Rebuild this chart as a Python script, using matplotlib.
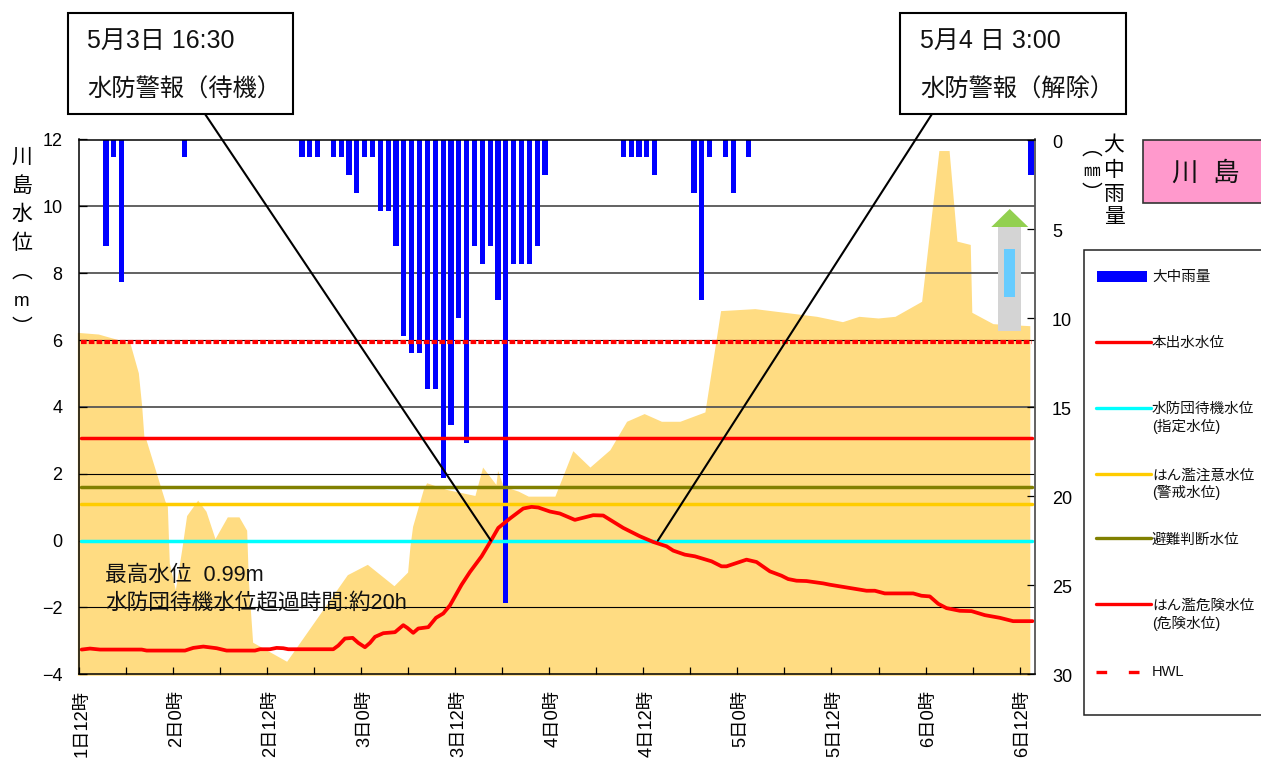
import matplotlib
matplotlib.use("Agg")
import matplotlib.pyplot as plt
from matplotlib.lines import Line2D
from matplotlib.patches import Rectangle, Polygon, ConnectionPatch
from matplotlib.transforms import ScaledTranslation

plt.rcParams['font.family'] = ['Liberation Sans', 'Noto Sans CJK JP', 'DejaVu Sans']

W, H = 1261, 761

# ---- data (x = hours after 1日12時) ----
tick_labels = ['1日12時', '2日0時', '2日12時', '3日0時', '3日12時', '4日0時',
               '4日12時', '5日0時', '5日12時', '6日0時', '6日12時']
tick_hours = [0, 12, 24, 36, 48, 60, 72, 84, 96, 108, 120]
minor_hours = [6, 18, 30, 42, 54, 66, 78, 90, 102, 114]

rain_hours = [3, 4, 5, 13, 28, 29, 30, 32, 33, 34, 35, 36, 37, 38, 39, 40, 41, 42, 43, 44,
              45, 46, 47, 48, 49, 50, 51, 52, 53, 54, 55, 56, 57, 58, 59,
              69, 70, 71, 72, 73, 78, 79, 80, 82, 83, 85, 121]
rain_mm = [6, 1, 8, 1, 1, 1, 1, 1, 1, 2, 3, 1, 1, 4, 4, 6, 11, 12, 12, 14,
           14, 19, 16, 10, 17, 6, 7, 6, 9, 26, 7, 7, 7, 6, 2,
           1, 1, 1, 1, 2, 3, 9, 1, 1, 3, 1, 2]

level_hours = [0.34, 1.40, 2.68, 8.0, 8.63, 13.52, 14.58, 15.86, 17.56, 18.83, 22.45, 23.09,
               24.36, 25.21, 26.06, 26.70, 32.44, 33.08, 33.93, 34.91, 35.63, 36.48, 37.12,
               37.76, 38.82, 40.31, 41.37, 41.88, 42.64, 43.28, 44.56, 45.54, 46.47, 47.32,
               48.81, 49.87, 51.36, 52.51, 53.49, 54.97, 56.67, 57.74, 58.59, 60.08, 61.35,
               63.26, 65.60, 66.88, 69.43, 71.55, 73.25, 74.96, 75.81, 77.29, 78.57, 80.70,
               81.97, 82.61, 85.16, 86.43, 88.14, 89.62, 90.47, 91.54, 92.81, 94.94, 95.79,
               100.47, 101.53, 102.80, 106.42, 107.48, 108.54, 109.61, 110.67, 112.37, 113.86,
               115.56, 117.47, 119.17, 121.64]
level_m = [-3.26, -3.23, -3.26, -3.26, -3.29, -3.29, -3.21, -3.17, -3.22, -3.29, -3.29, -3.25,
           -3.25, -3.21, -3.22, -3.25, -3.25, -3.14, -2.93, -2.91, -3.06, -3.19, -3.06,
           -2.88, -2.77, -2.74, -2.53, -2.61, -2.76, -2.63, -2.59, -2.31, -2.18, -1.94,
           -1.32, -0.94, -0.47, -0.02, 0.38, 0.66, 0.96, 1.01, 0.99, 0.87, 0.81,
           0.62, 0.76, 0.75, 0.38, 0.13, -0.04, -0.17, -0.30, -0.42, -0.47, -0.62,
           -0.77, -0.77, -0.57, -0.64, -0.92, -1.05, -1.15, -1.20, -1.21, -1.28, -1.32,
           -1.50, -1.50, -1.58, -1.58, -1.65, -1.67, -1.89, -2.02, -2.10, -2.11,
           -2.23, -2.31, -2.41, -2.41]

area_hours = [-0.21, 2.47, 6.50, 7.57, 8.0, 8.29, 8.55, 10.97, 11.27, 11.52, 12.29, 13.1, 13.73,
              15.14, 16.2, 17.35, 18.92, 20.41, 21.39, 21.6, 22.15, 26.49, 34.23, 36.78, 40.18,
              41.92, 42.22, 42.56, 43.92, 44.35, 46.9, 50.51, 51.49, 53.19, 53.4, 54.12, 56.04,
              57.31, 60.71, 63.0, 65.18, 67.73, 69.86, 72.1, 74.3, 76.66, 79.85, 81.85, 86.22,
              94.1, 97.4, 99.5, 101.95, 104.1, 107.5, 109.7, 111.0, 112.0, 113.7, 113.9, 116.6,
              121.3]
area_m = [6.23, 6.18, 5.91, 5.02, 4.02, 3.07, 3.02, 1.18, 1.03, -0.67, -1.47, -0.27, 0.75,
          1.21, 0.88, 0.06, 0.71, 0.71, 0.31, -1.17, -3.04, -3.61, -1.02, -0.71, -1.35,
          -0.94, -0.17, 0.43, 1.53, 1.73, 1.53, 1.35, 2.2, 1.68, 2.10, 1.63, 1.48,
          1.33, 1.33, 2.69, 2.2, 2.72, 3.57, 3.8, 3.57, 3.57, 3.85, 6.88, 6.94,
          6.71, 6.55, 6.71, 6.66, 6.71, 7.16, 11.67, 11.67, 8.96, 8.86, 6.83, 6.49,
          6.43]

hwl_m = 5.93
honde_m = 3.08
warn_m = 1.1
evac_m = 1.6
standby_m = 0.0
standby_start_h = 52.55
standby_end_h = 73.85

# ---- helpers ----
fx = lambda x: x / W
fy = lambda y: 1 - y / H

fig = plt.figure(figsize=(W / 100, H / 100), dpi=100, facecolor='white')
L, R, T, B = 79, 1035.3, 139.5, 674.3
rect = [fx(L), fy(B), (R - L) / W, (B - T) / H]

ax_bg = fig.add_axes(rect, zorder=1)
ax_rain = fig.add_axes(rect, zorder=2, facecolor='none')
ax_fg = fig.add_axes(rect, zorder=3, facecolor='none')
for a in (ax_bg, ax_fg):
    a.set_xlim(0, 122)
    a.set_ylim(-4, 12)
ax_rain.set_xlim(0, 122)
ax_rain.set_ylim(30, 0)

# background area and grid
ax_bg.fill_between(area_hours, area_m, -4.03, color='#FFDC82', lw=0, clip_on=False)
for g in [2, 6, -2]:
    ax_bg.axhline(g, color='black', lw=0.8, zorder=3)
for g in [10, 8, 4]:
    ax_bg.axhline(g, color='#555555', lw=1.3, zorder=3)
ax_bg.set_xticks([])
ax_bg.set_yticks([])
for s in ax_bg.spines.values():
    s.set_visible(False)

# rain
ax_rain.bar([h + 0.45 for h in rain_hours], rain_mm, width=0.66, color='#0000FF',
            edgecolor='none', linewidth=0)
ax_rain.set_xticks([])
ax_rain.yaxis.tick_right()
ax_rain.set_yticks([0, 5, 10, 15, 20, 25, 30])
ax_rain.tick_params(axis='y', direction='in', length=5.5, width=0.9, pad=12, labelsize=13)
for s in ax_rain.spines.values():
    s.set_visible(False)
for lab in ax_rain.get_yticklabels():
    lab.set_transform(lab.get_transform() + ScaledTranslation(0, -1.5 / 100, fig.dpi_scale_trans))

# reference levels
x0, x1 = 0.3, 121.6
lk = dict(lw=2.5, solid_capstyle='round')
ax_fg.plot([x0, x1], [evac_m] * 2, color='#808000', **lk)
ax_fg.plot([x0, x1], [warn_m] * 2, color='#FFCC00', **lk)
ax_fg.plot([x0, x1], [honde_m] * 2, color='#FF0000', **lk)
ax_fg.plot([x0, x1], [standby_m] * 2, color='#00FFFF', **lk)
ax_fg.plot([x0, x1], [hwl_m] * 2, color='#FF0000', lw=3.0, linestyle=(0, (1.35, 0.52)),
           dash_capstyle='butt')
ax_fg.plot(level_hours, level_m, color='#FF0000', lw=2.7, solid_capstyle='round',
           solid_joinstyle='round')

ax_fg.set_yticks(list(range(-4, 13, 2)))
ax_fg.set_yticklabels(['−4', '−2', '0', '2', '4', '6', '8', '10', '12'])
ax_fg.set_xticks(tick_hours)
ax_fg.set_xticklabels(tick_labels, rotation=90, fontsize=13.2, va='top', ha='center')
ax_fg.set_xticks(minor_hours, minor=True)
ax_fg.tick_params(axis='y', direction='in', length=5.5, width=0.9, pad=12, labelsize=13)
ax_fg.tick_params(axis='x', which='both', direction='in', length=5, width=0.9, pad=11)
off = ScaledTranslation(3.5 / 100, 0, fig.dpi_scale_trans)
for lab in ax_fg.get_xticklabels():
    lab.set_transform(lab.get_transform() + off)
for s in ax_fg.spines.values():
    s.set_linewidth(1.1)
    s.set_color('black')
ax_fg.spines['right'].set_color('#555555')
ax_fg.spines['right'].set_linewidth(1.3)

# in-plot notes
fig.text(fx(105), fy(575), '最高水位  0.99m', fontsize=15.6, va='center', ha='left',
         color='#111111', zorder=6)
fig.text(fx(105), fy(604), '水防団待機水位超過時間:約20h', fontsize=15.6, va='center', ha='left',
         color='#111111', zorder=6)

# callouts
for (bx0, bx1, lx, h_at, t1, t2, tx) in [
    (68, 293, 205, standby_start_h, '5月3日 16:30', '水防警報（待機）', 87),
    (900, 1126, 932, standby_end_h, '5月4 日 3:00', '水防警報（解除）', 920),
]:
    con = ConnectionPatch(xyA=(h_at, 0), coordsA=ax_fg.transData,
                          xyB=(fx(lx), fy(114)), coordsB='figure fraction',
                          color='black', lw=1.5, zorder=5)
    fig.add_artist(con)
    fig.add_artist(Rectangle((fx(bx0), fy(114)), (bx1 - bx0) / W, 101 / H,
                             transform=fig.transFigure, fc='white', ec='black', lw=1.5, zorder=6))
    fig.text(fx(tx), fy(41), t1, fontsize=18, va='center', ha='left', color='#111111', zorder=7)
    fig.text(fx(tx), fy(90), t2, fontsize=17.5, va='center', ha='left', color='#111111', zorder=7)

# gauge symbol
fig.add_artist(Rectangle((fx(998), fy(331)), 23 / W, 104 / H, transform=fig.transFigure,
                         fc='#D4D4D4', ec='none', zorder=5))
fig.add_artist(Rectangle((fx(1004), fy(297)), 11 / W, 48 / H, transform=fig.transFigure,
                         fc='#66CCFF', ec='none', zorder=5))
fig.add_artist(Polygon([(fx(991.3), fy(227)), (fx(1028.3), fy(227)), (fx(1009.7), fy(209))],
                       transform=fig.transFigure, fc='#92D050', ec='none', zorder=5))

# axis titles in vertical writing
for ch, y in zip(['川', '島', '水', '位'], [157, 186, 214, 243]):
    fig.text(fx(22), fy(y), ch, fontsize=15, ha='center', va='center')
fig.text(fx(22), fy(272), '︵', fontsize=15, ha='center', va='center')
fig.text(fx(22), fy(301), 'm', fontsize=13.5, ha='center', va='center')
fig.text(fx(22), fy(328), '︶', fontsize=15, ha='center', va='center')

for ch, y in zip(['大', '中', '雨', '量'], [146, 170, 195, 218]):
    fig.text(fx(1114), fy(y), ch, fontsize=15, ha='center', va='center')
fig.text(fx(1092), fy(149), '︵', fontsize=15, ha='center', va='center')
fig.text(fx(1092), fy(171), '㎜', fontsize=12, ha='center', va='center')
fig.text(fx(1092), fy(195), '︶', fontsize=15, ha='center', va='center')

# station plate
fig.add_artist(Rectangle((fx(1143), fy(203)), 125 / W, 63 / H, transform=fig.transFigure,
                         fc='#FF99CC', ec='#333333', lw=1.2, zorder=5, clip_on=False))
fig.text(fx(1206), fy(173), '川  島', fontsize=19, ha='center', va='center', color='#111111', zorder=6)

# legend panel
fig.add_artist(Rectangle((fx(1084), fy(715)), 190 / W, 465 / H, transform=fig.transFigure,
                         fc='white', ec='#222222', lw=1.1, zorder=1))
fig.add_artist(Rectangle((fx(1097), fy(282)), 50 / W, 11 / H, transform=fig.transFigure,
                         fc='#0000FF', ec='none', zorder=5))
legend_lines = [(342, '#FF0000', '-'), (408, '#00FFFF', '-'), (474, '#FFCC00', '-'),
                (538, '#808000', '-'), (604, '#FF0000', '-'),
                (672, '#FF0000', (0, (3.2, 6.5)))]
for y, c, ls in legend_lines:
    fig.add_artist(Line2D([fx(1096), fx(1151)], [fy(y), fy(y)], color=c, lw=2.4, linestyle=ls,
                          transform=fig.transFigure, zorder=5,
                          solid_capstyle='round', dash_capstyle='butt'))
legend_texts = [(277, '大中雨量'), (343, '本出水水位'), (409, '水防団待機水位'), (426, '(指定水位)'),
                (476, 'はん濫注意水位'), (492, '(警戒水位)'), (540, '避難判断水位'),
                (606, 'はん濫危険水位'), (623, '(危険水位)'), (672, 'HWL')]
for y, t in legend_texts:
    fig.text(fx(1152), fy(y), t, fontsize=10.5, ha='left', va='center', color='#111111', zorder=6)

fig.savefig('out.png', dpi=100, facecolor='white')
